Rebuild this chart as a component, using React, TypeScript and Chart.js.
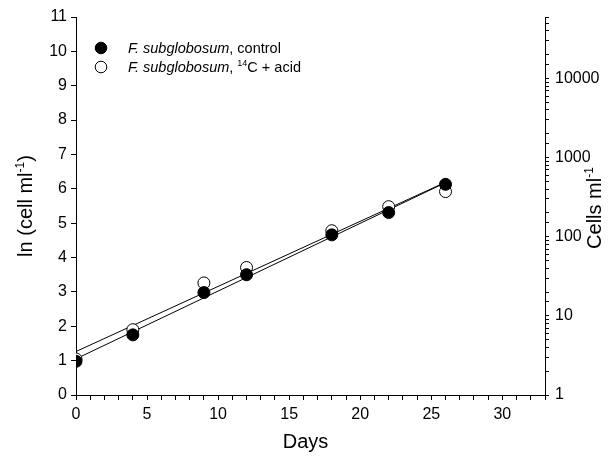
import React, { useEffect, useRef } from "react";
import { Chart, registerables } from "chart.js";

Chart.register(...registerables);

const days = [0, 4, 9, 12, 18, 22, 26];
const lnControl = [0.98, 1.75, 2.98, 3.5, 4.66, 5.31, 6.13];
const lnAcid = [1.05, 1.9, 3.26, 3.71, 4.78, 5.48, 5.92];
const xTicksMajor = [0, 5, 10, 15, 20, 25, 30];
const rightTickLabels = [1, 10, 100, 1000, 10000];

function fit(xs: number[], ys: number[]) {
  const n = xs.length;
  const mx = xs.reduce((a, b) => a + b, 0) / n;
  const my = ys.reduce((a, b) => a + b, 0) / n;
  let sxy = 0, sxx = 0;
  for (let i = 0; i < n; i++) {
    sxy += (xs[i] - mx) * (ys[i] - my);
    sxx += (xs[i] - mx) * (xs[i] - mx);
  }
  const b = sxy / sxx;
  const a = my - b * mx;
  const x0 = xs[0], x1 = xs[n - 1];
  return [{ x: x0, y: a + b * x0 }, { x: x1, y: a + b * x1 }];
}

const FONT = "'Liberation Sans', Arial, sans-serif";

type Run = { t: string; italic?: boolean; sup?: boolean };

function runWidth(ctx: CanvasRenderingContext2D, runs: Run[], size: number) {
  let w = 0;
  for (const r of runs) {
    const s = r.sup ? Math.round(size * 0.62) : size;
    ctx.font = `${r.italic ? "italic " : ""}${s}px ${FONT}`;
    w += ctx.measureText(r.t).width;
  }
  return w;
}

function drawRuns(ctx: CanvasRenderingContext2D, runs: Run[], x: number, y: number, size: number) {
  let cx = x;
  ctx.textBaseline = "alphabetic";
  ctx.textAlign = "left";
  for (const r of runs) {
    const s = r.sup ? Math.round(size * 0.62) : size;
    ctx.font = `${r.italic ? "italic " : ""}${s}px ${FONT}`;
    ctx.fillText(r.t, cx, r.sup ? y - size * 0.42 : y);
    cx += ctx.measureText(r.t).width;
  }
}

const annotations = {
  id: "annotations",
  afterDraw(chart: any) {
    const ctx: CanvasRenderingContext2D = chart.ctx;
    ctx.save();
    ctx.fillStyle = "#000";
    ctx.strokeStyle = "#000";
    // legend
    const lx = 101;
    const rows: { y: number; filled: boolean; runs: Run[] }[] = [
      { y: 48, filled: true, runs: [{ t: "F. subglobosum", italic: true }, { t: ", control" }] },
      {
        y: 67,
        filled: false,
        runs: [{ t: "F. subglobosum", italic: true }, { t: ", " }, { t: "14", sup: true }, { t: "C + acid" }],
      },
    ];
    for (const r of rows) {
      ctx.beginPath();
      ctx.arc(lx, r.y, 5.8, 0, Math.PI * 2);
      ctx.fillStyle = r.filled ? "#000" : "#fff";
      ctx.fill();
      ctx.lineWidth = 1;
      ctx.stroke();
      ctx.fillStyle = "#000";
      drawRuns(ctx, r.runs, 128, r.y + 5, 14.5);
    }
    // axis titles
    const size = 20;
    const leftRuns: Run[] = [{ t: "ln (cell ml" }, { t: "-1", sup: true }, { t: ")" }];
    const rightRuns: Run[] = [{ t: "Cells ml" }, { t: "-1", sup: true }];
    const area = chart.chartArea;
    const cy = (area.top + area.bottom) / 2;
    ctx.save();
    ctx.translate(32, cy);
    ctx.rotate(-Math.PI / 2);
    drawRuns(ctx, leftRuns, -runWidth(ctx, leftRuns, size) / 2, 0, size);
    ctx.restore();
    ctx.save();
    ctx.translate(601, cy + 2);
    ctx.rotate(-Math.PI / 2);
    drawRuns(ctx, rightRuns, -runWidth(ctx, rightRuns, size) / 2, 0, size);
    ctx.restore();
    const daysRuns: Run[] = [{ t: "Days" }];
    drawRuns(ctx, daysRuns, (area.left + area.right) / 2 - 5 - runWidth(ctx, daysRuns, size) / 2, 448, size);
    ctx.restore();
  },
};

export default function App() {
  const ref = useRef<HTMLCanvasElement | null>(null);
  useEffect(() => {
    document.body.style.margin = "0";
    const lineC = fit(days, lnControl);
    const lineA = fit(days, lnAcid);
    const chart = new Chart(ref.current as HTMLCanvasElement, {
      type: "scatter",
      data: {
        datasets: [
          {
            label: "control",
            data: days.map((d, i) => ({ x: d, y: lnControl[i] })),
            backgroundColor: "#000",
            borderColor: "#000",
            pointRadius: 6,
            borderWidth: 1,
            order: 0,
            yAxisID: "y",
          },
          {
            label: "acid",
            data: days.map((d, i) => ({ x: d, y: lnAcid[i] })),
            backgroundColor: "#fff",
            borderColor: "#000",
            pointRadius: 6,
            borderWidth: 1,
            order: 1,
            yAxisID: "y",
          },
          {
            type: "line",
            label: "fitC",
            data: lineC,
            borderColor: "#000",
            borderWidth: 1,
            pointRadius: 0,
            showLine: true,
            order: 2,
            yAxisID: "y",
          } as any,
          {
            type: "line",
            label: "fitA",
            data: lineA,
            borderColor: "#000",
            borderWidth: 1,
            pointRadius: 0,
            showLine: true,
            order: 3,
            yAxisID: "y",
          } as any,
        ],
      },
      options: {
        animation: false,
        responsive: false,
        layout: { padding: { top: 17, left: 0, right: 0, bottom: 0 } },
        plugins: { legend: { display: false }, tooltip: { enabled: false } },
        scales: {
          x: {
            type: "linear",
            min: 0,
            max: 33,
            afterFit: (s: any) => { s.height = 64; },
            ticks: {
              stepSize: 1,
              autoSkip: false,
              maxRotation: 0,
              color: "#000",
              font: { family: FONT, size: 16 },
              padding: 5,
              callback: (v: any) => (xTicksMajor.includes(Number(v)) ? String(v) : ""),
            },
            grid: { drawOnChartArea: false, drawTicks: true, tickLength: 5, color: "#000" },
            border: { display: true, color: "#000", width: 1 },
          },
          y: {
            type: "linear",
            position: "left",
            min: 0,
            max: 11,
            afterFit: (s: any) => { s.width = 76; },
            ticks: { stepSize: 1, color: "#000", font: { family: FONT, size: 16 }, padding: 4 },
            grid: { drawOnChartArea: false, drawTicks: true, tickLength: 5, color: "#000" },
            border: { display: true, color: "#000", width: 1 },
          },
          y2: {
            type: "logarithmic",
            position: "right",
            min: 1,
            max: Math.exp(11),
            afterFit: (s: any) => { s.width = 67; },
            ticks: {
              autoSkip: false,
              color: "#000",
              font: { family: FONT, size: 16 },
              padding: 6,
              callback: (v: any) => (rightTickLabels.includes(Number(v)) ? String(v) : ""),
            },
            grid: {
              drawOnChartArea: false,
              drawTicks: true,
              tickLength: 4,
              color: "#000",
            },
            border: { display: true, color: "#000", width: 1 },
          },
        },
      },
      plugins: [annotations],
    } as any);
    return () => chart.destroy();
  }, []);
  return (
    <div style={{ width: 612, height: 459 }}>
      <canvas ref={ref} width={612} height={459} />
    </div>
  );
}
